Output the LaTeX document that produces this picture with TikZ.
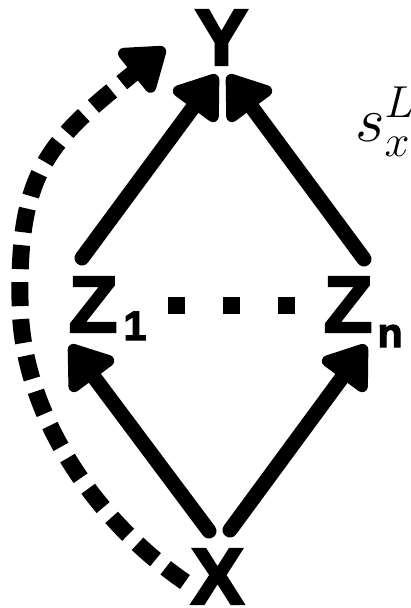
\RequirePackage{fix-cm}
\documentclass[tikz,border=0pt]{standalone}
\usepackage{fontspec}
\newfontfamily\labfont{Liberation Sans}[BoldFeatures={FakeBold=3}]
\usetikzlibrary{arrows.meta}
\newcommand\subf{\fontsize{41}{41}\selectfont}
\begin{document}
\begin{tikzpicture}[x=1pt,y=-1pt,
  lab/.style={font={\labfont\bfseries\fontsize{80}{80}\selectfont}, inner sep=0pt},
  solidarrow/.style={line width=15pt, line cap=round, -{Triangle[length=46pt,width=62pt,round]}},
  dasharrow/.style={line width=17pt, dash pattern=on 24pt off 13pt, -{Triangle[length=46pt,width=62pt,round]}},
  dotline/.style={line width=17pt, dash pattern=on 17pt off 38pt}]
\useasboundingbox[fill=white] (0,0) rectangle (410,608);
\clip (0,0) rectangle (410,608);
% nodes
\node[lab, anchor=base] (y) at (221.5,65) {Y};
\node[lab, anchor=base west] (z1) at (68.5,332) {Z\kern6pt\raisebox{-8pt}{\subf 1}};
\node[lab, anchor=base west] (zn) at (323.5,332) {Z\kern5pt\raisebox{-15pt}{\subf n}};
\node[lab, anchor=base] (x) at (217.5,604) {X};
\node[anchor=base west, inner sep=0pt, font=\fontsize{64}{64}\selectfont] (s) at (355,141) {$s_x^{L}$};
% connector ends
\coordinate (z1top) at (82,258);
\coordinate (yl) at (217,75);
\coordinate (zntop) at (364,259);
\coordinate (yr) at (228,75);
\coordinate (xl) at (209,531);
\coordinate (z1b) at (70,345);
\coordinate (xr) at (230,530);
\coordinate (znb) at (366,345);
\coordinate (ds) at (185,582);
\coordinate (dm) at (20,300);
\coordinate (dt) at (165,48);
\coordinate (d1) at (168,305);
\coordinate (d2) at (295,305);
% connectors
\draw[solidarrow] (z1top) -- (yl);
\draw[solidarrow] (zntop) -- (yr);
\draw[solidarrow] (xl) -- (z1b);
\draw[solidarrow] (xr) -- (znb);
\draw[dasharrow] (ds) .. controls (92,518) and (20,410) .. (dm)
  .. controls (18,170) and (50,140) .. (dt);
\draw[dotline] (d1) -- (d2);
\end{tikzpicture}
\end{document}
